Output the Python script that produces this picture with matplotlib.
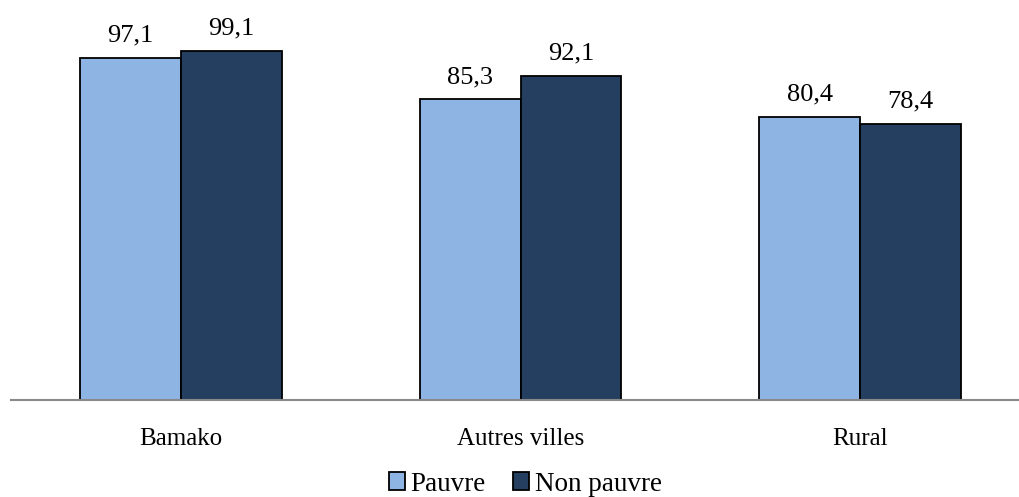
import matplotlib.pyplot as plt
import numpy as np

plt.rcParams['font.family'] = ['Liberation Serif', 'DejaVu Serif']

categories = ['Bamako', 'Autres villes', 'Rural']
pauvre = [97.1, 85.3, 80.4]
non_pauvre = [99.1, 92.1, 78.4]
series_names = ['Pauvre', 'Non pauvre']


def fmt(v):
    return f'{v:.1f}'.replace('.', ',')


fig = plt.figure(figsize=(10.2, 4.97), dpi=100)
ax = fig.add_axes([0.0108, 0.195, 0.999, 0.78])

x = np.arange(len(categories))
w = 0.297
b1 = ax.bar(x - w / 2, pauvre, w, color='#8EB4E3', edgecolor='black', linewidth=1.3, label=series_names[0])
b2 = ax.bar(x + w / 2, non_pauvre, w, color='#243F60', edgecolor='black', linewidth=1.3, label=series_names[1])

for bars, vals in ((b1, pauvre), (b2, non_pauvre)):
    for r, v in zip(bars, vals):
        ax.annotate(fmt(v), (r.get_x() + r.get_width() / 2, v), xytext=(0, 8),
                    textcoords='offset points', ha='center', va='bottom', fontsize=19)

ax.set_xlim(-0.5, 2.5)
ax.set_ylim(0, 110)
ax.set_xticks(x)
ax.set_xticklabels(categories, fontsize=18)
ax.tick_params(axis='x', length=0, pad=20)
ax.set_yticks([])
for s in ('top', 'right', 'left'):
    ax.spines[s].set_visible(False)
ax.spines['bottom'].set_color('#898989')
ax.spines['bottom'].set_linewidth(1.5)

fig.legend(handles=[b1, b2], loc='center', bbox_to_anchor=(0.515, 0.026), ncol=2, frameon=False,
           fontsize=19.5, handlelength=0.6, handleheight=0.6, handletextpad=0.2, columnspacing=1.0)

fig.savefig('out.png', dpi=100)
